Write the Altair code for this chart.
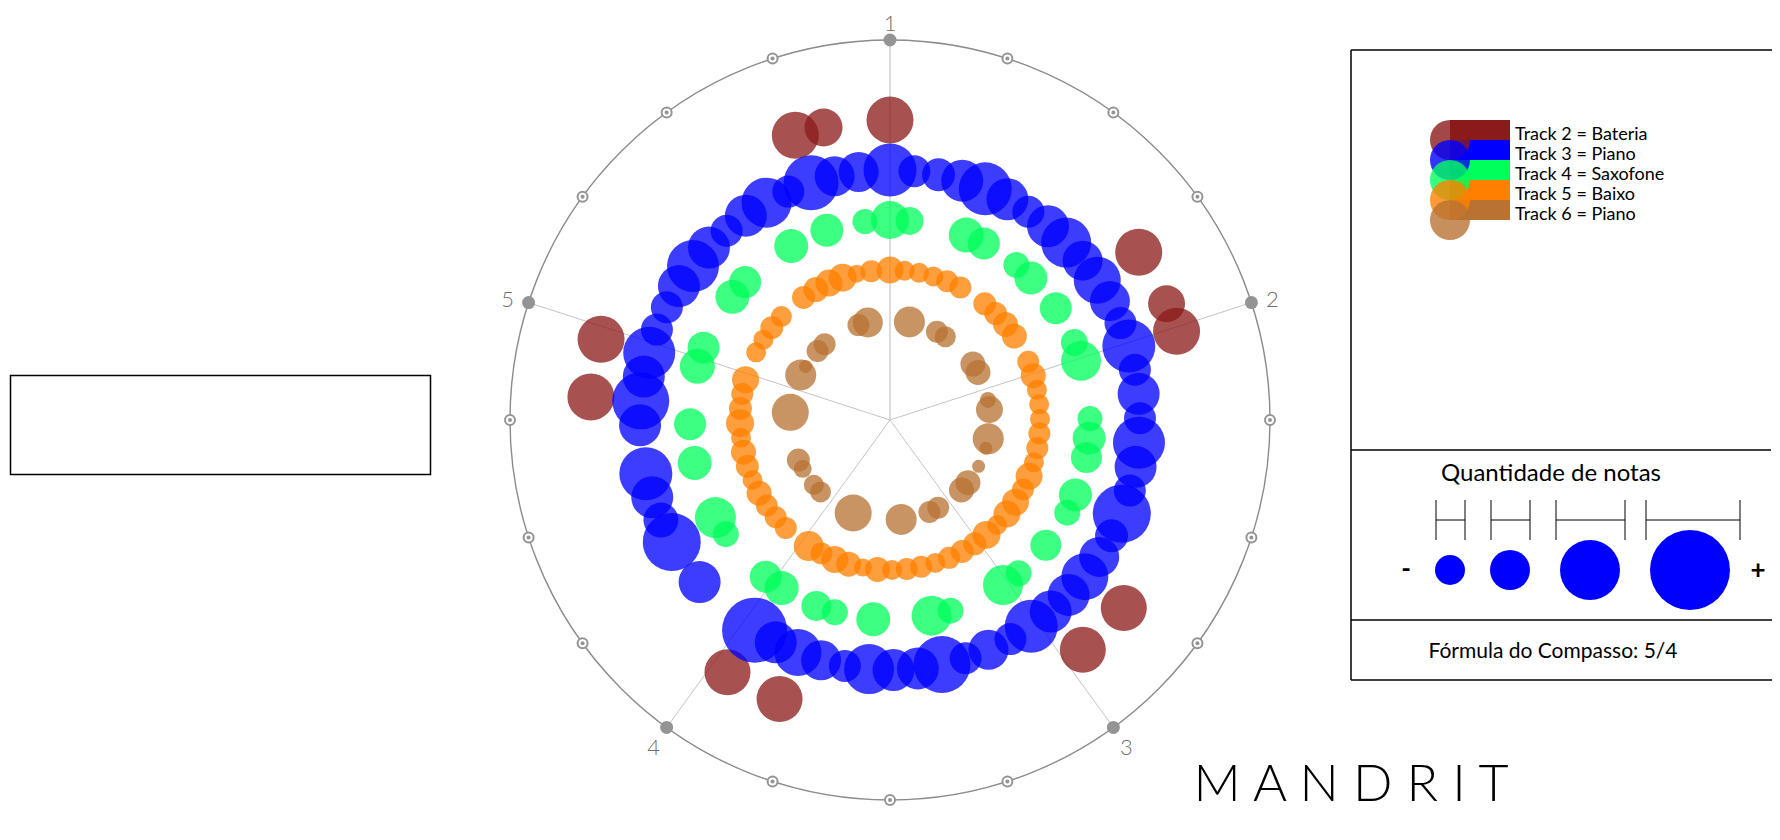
import math
import altair as alt
import pandas as pd

# ---------------- data ----------------
TRACK_IDS = [2, 3, 4, 5, 6]
TRACK_LABELS = ["Track 2 = Bateria", "Track 3 = Piano", "Track 4 = Saxofone",
                "Track 5 = Baixo", "Track 6 = Piano"]
TRACK_COLORS = ["#8b1a1a", "#0000ff", "#00ff5a", "#ff8000", "#b87333"]

BEAT_LABELS = ["1", "2", "3", "4", "5"]
SIZE_LEGEND = [30, 40, 60, 80]
METER_TEXT = "Fórmula do Compasso: 5/4"
SIZE_TITLE = "Quantidade de notas"
BRAND = "M A N D R I T"

# position in the bar (step of 5.6 degrees) and note quantity (drawn diameter)
bat_steps = [0, 10, 12, 13, 23, 25, 36, 38, 49, 51, 61, 62]
bat_notes = [47, 47, 37, 47, 46, 46, 46, 46, 47, 47, 47, 38]

pia_steps = [0, 1, 2, 3, 4, 5, 6, 7, 8, 9, 10, 11, 12, 13, 14, 15, 16, 17, 18, 19,
             20, 21, 22, 23, 24, 25, 26, 27, 28, 29, 30, 31, 32, 33, 34, 35, 36, 37, 38,
             41, 43, 44, 45, 46, 48, 49, 50, 51, 52, 53, 54, 55, 56, 57, 58, 59, 60,
             61, 62, 63]
pia_notes = [53, 32, 33, 42, 53, 42, 32, 42, 50, 40, 47, 40, 32, 53, 32, 42, 32, 52, 42, 32,
             58, 33, 40, 47, 42, 42, 53, 32, 40, 32, 57, 42, 42, 50, 32, 40, 47, 42, 65,
             42, 58, 35, 42, 53, 42, 57, 42, 52, 32, 32, 42, 52, 42, 32, 42, 50, 32,
             55, 40, 40]

sax_steps = [0, 1, 4, 5, 7, 8, 10, 12, 13, 16, 17, 18, 20, 21, 23, 25, 26, 29, 30, 33,
             35, 36, 38, 39, 42, 43, 46, 48, 51, 52, 55, 56, 59, 61, 63]
sax_notes = [38, 28, 35, 32, 26, 33, 32, 27, 40, 25, 33, 31, 33, 26, 31, 26, 40, 26, 40, 34,
             26, 30, 34, 32, 26, 41, 34, 32, 35, 32, 34, 32, 34, 33, 25]

bx_steps = [0, 1, 2, 3, 4, 5, 7, 8, 9, 10, 12, 13, 14, 15, 16, 17, 18, 19, 20, 21,
            22, 23, 24, 25, 26, 27, 28, 29, 30, 31, 32, 33, 34, 35, 36, 37, 38, 40, 41, 42,
            43, 44, 45, 46, 47, 48, 49, 50, 51, 53, 54, 55, 56, 58, 59, 60, 61, 62, 63]
bx_notes = [27, 20, 20, 20, 22, 22, 23, 23, 25, 25, 22, 25, 20, 20, 20, 22, 22, 20, 27, 22,
            27, 27, 20, 28, 23, 23, 22, 20, 22, 22, 20, 25, 18, 25, 27, 22, 30, 22, 22, 22,
            25, 20, 23, 25, 20, 28, 23, 22, 27, 20, 20, 23, 21, 23, 25, 27, 28, 18, 22]

p6_steps = [2, 5, 6, 10, 11, 14, 15, 18, 19, 21, 23, 24, 27, 28, 31, 36, 40, 41, 43, 44,
            49, 53, 54, 56, 57, 61, 62]
p6_notes = [31, 22, 21, 25, 25, 16, 27, 31, 13, 13, 25, 25, 22, 22, 31, 37, 21, 20, 18, 23,
            37, 31, 13, 22, 22, 22, 30]

rows = []
for trk, steps, qty in [(2, bat_steps, bat_notes), (3, pia_steps, pia_notes),
                        (4, sax_steps, sax_notes), (5, bx_steps, bx_notes),
                        (6, p6_steps, p6_notes)]:
    for s, q in zip(steps, qty):
        rows.append({"track": trk, "step": s, "notas": q})
notes = pd.DataFrame(rows)

# ---------------- layout ----------------
W, H = 1764, 824
xs = alt.Scale(domain=[-882, 882], nice=False, zero=False)
ys = alt.Scale(domain=[-412, 412], nice=False, zero=False)
# vega circle symbols: diameter = sqrt(size)
size_scale = alt.Scale(type="pow", exponent=2, domain=[0, 100], range=[0, 100 * 100])
FONT = "Lato"
GRAY = "#949494"


def XY(xf, yf):
    return dict(x=alt.X(xf, type="quantitative", scale=xs, axis=None),
                y=alt.Y(yf, type="quantitative", scale=ys, axis=None))


def px(v):
    return alt.value(v - 8)


one = pd.DataFrame({"k": [0]})
layers = []

# spokes
beats = pd.DataFrame({"beat": list(range(1, 6)), "label": BEAT_LABELS})
layers.append(
    alt.Chart(beats).transform_calculate(
        a="(datum.beat - 1) * 72 * PI / 180",
        x0="0", y0="0",
        x1="380 * sin(datum.a)", y1="380 * cos(datum.a)"
    ).mark_rule().encode(
        **XY("x0", "y0"),
        x2="x1:Q", y2="y1:Q",
        color=alt.condition("datum.beat == 1", alt.value("#dcdcdc"), alt.value("#c4c4c4")),
        strokeWidth=alt.condition("datum.beat == 1", alt.value(2), alt.value(1)),
    )
)

# outer ring
layers.append(
    alt.Chart(pd.DataFrame({"cx": [0], "cy": [0]})).mark_point(
        shape="circle", filled=False, size=760 ** 2,
        stroke="#8c8c8c", strokeWidth=1.4, opacity=1
    ).encode(**XY("cx", "cy"))
)

# subdivision markers on the ring
subs = pd.DataFrame({"pos": list(range(20))})
sub_base = alt.Chart(subs).transform_calculate(
    a="datum.pos * 18 * PI / 180",
    x="380 * sin(datum.a)", y="380 * cos(datum.a)"
)
layers.append(sub_base.transform_filter("datum.pos % 4 != 0").mark_point(
    shape="circle", filled=False, size=10 ** 2, fill="white", fillOpacity=1,
    stroke=GRAY, strokeWidth=2, opacity=1).encode(**XY("x", "y")))
layers.append(sub_base.transform_filter("datum.pos % 4 != 0").mark_circle(
    size=4 ** 2, color=GRAY, opacity=1).encode(**XY("x", "y")))
layers.append(sub_base.transform_filter("datum.pos % 4 == 0").mark_circle(
    size=13 ** 2, color=GRAY, opacity=1).encode(**XY("x", "y")))

# beat labels
layers.append(
    alt.Chart(beats).transform_calculate(
        a="(datum.beat - 1) * 72 * PI / 180",
        x="402 * sin(datum.a)", y="400 * cos(datum.a) - 4"
    ).mark_text(font=FONT, fontSize=22, fontWeight=300, color="#707070",
                align="center", baseline="middle").encode(**XY("x", "y"), text="label:N")
)

# notes
layers.append(
    alt.Chart(notes).transform_calculate(
        a="datum.step * 5.6 * PI / 180",
        r="400 - 50 * datum.track",
        x="datum.r * sin(datum.a)", y="datum.r * cos(datum.a)"
    ).mark_circle(opacity=0.76).encode(
        **XY("x", "y"),
        color=alt.Color("track:O", scale=alt.Scale(domain=TRACK_IDS, range=TRACK_COLORS),
                        legend=None),
        size=alt.Size("notas:Q", scale=size_scale, legend=None),
    )
)

# ---------------- frames ----------------
def hline(x1, x2, y, w=1.5):
    return alt.Chart(one).mark_rule(color="black", strokeWidth=w).encode(
        x=px(x1), x2=px(x2), y=px(y), y2=px(y))


def vline(x, y1, y2, w=1.5):
    return alt.Chart(one).mark_rule(color="black", strokeWidth=w).encode(
        x=px(x), x2=px(x), y=px(y1), y2=px(y2))


# left empty box
layers.append(alt.Chart(one).mark_rect(fillOpacity=0, stroke="black", strokeWidth=1.5).encode(
    x=px(10.5), x2=px(430.5), y=px(375.5), y2=px(474.5)))

# right panel
layers += [vline(1351, 50, 680), hline(1351, 1772, 50), hline(1351, 1771, 450),
           hline(1351, 1772, 620), hline(1351, 1772, 680)]

# colour legend: rects first, then translucent circles
for i, c in enumerate(TRACK_COLORS):
    top = 120 + 20 * i
    layers.append(alt.Chart(one).mark_rect(color=c, opacity=1).encode(
        x=px(1450), x2=px(1510), y=px(top), y2=px(top + 20)))
for i, c in enumerate(TRACK_COLORS):
    top = 120 + 20 * i
    layers.append(alt.Chart(one).mark_circle(color=c, opacity=0.8, size=40 ** 2).encode(
        x=px(1450), y=px(top + 20)))
for i, lab in enumerate(TRACK_LABELS):
    layers.append(alt.Chart(one).mark_text(
        text=lab, font=FONT, fontSize=18, align="left", baseline="alphabetic",
        color="black").encode(x=px(1515), y=px(140 + 20 * i)))

# size legend
layers.append(alt.Chart(one).mark_text(
    text=SIZE_TITLE, font=FONT, fontSize=24, align="center", baseline="middle",
    color="black").encode(x=px(1551), y=px(474)))
brackets = [(1436, 1465), (1491, 1530), (1556, 1625), (1646, 1740)]
for (a, b) in brackets:
    layers += [vline(a, 500, 540, 1), vline(b, 500, 540, 1), hline(a, b, 520, 1)]
centers = [1450, 1510, 1590, 1690]
for cx, d in zip(centers, SIZE_LEGEND):
    layers.append(alt.Chart(one).mark_circle(color="#0000ff", opacity=1,
                                             size=d * d).encode(x=px(cx), y=px(570)))
layers.append(alt.Chart(one).mark_text(text="-", font=FONT, fontSize=26, fontWeight="bold",
                                       align="center", baseline="middle", color="black").encode(
    x=px(1406), y=px(570)))
layers.append(alt.Chart(one).mark_text(text="+", font=FONT, fontSize=26, fontWeight="bold",
                                       align="center", baseline="middle", color="black").encode(
    x=px(1758), y=px(571)))

layers.append(alt.Chart(one).mark_text(
    text=METER_TEXT, font=FONT, fontSize=21, align="center", baseline="middle",
    color="black").encode(x=px(1553), y=px(652)))

layers.append(alt.Chart(one).mark_text(
    text=BRAND, font=FONT, fontSize=52, fontWeight=300, align="center",
    baseline="alphabetic", color="black").encode(x=px(1351), y=px(801)))

chart = alt.layer(*layers).properties(
    width=W, height=H, padding=0, autosize="none"
).configure_view(stroke=None)

chart.save("out.html", embed_options={"renderer": "svg", "actions": False})
